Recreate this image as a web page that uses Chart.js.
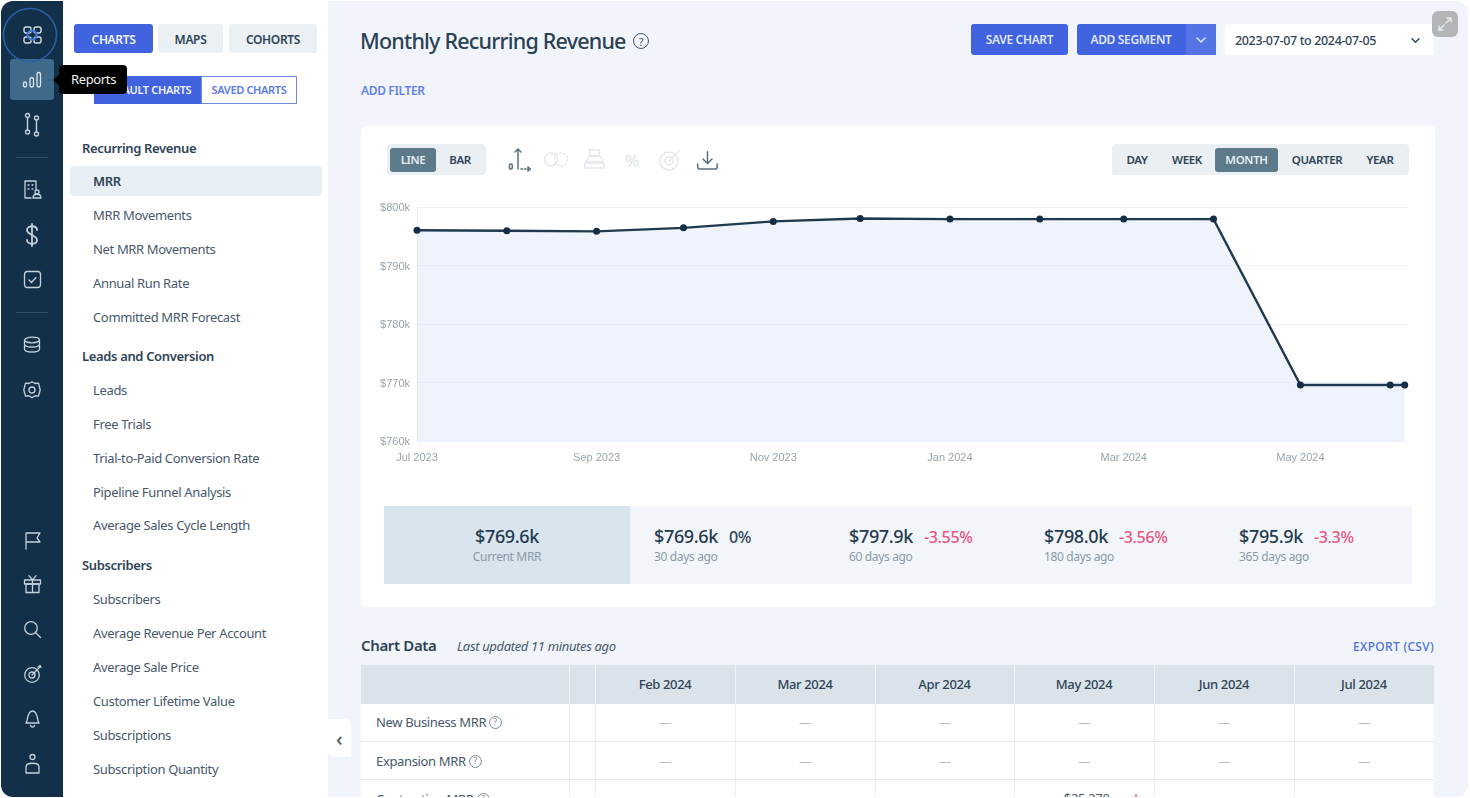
<!DOCTYPE html>
<html>
<head>
<meta charset="utf-8">
<title>Monthly Recurring Revenue</title>
<script src="https://cdn.jsdelivr.net/npm/chart.js@4"></script>
<style>
html,body{margin:0;padding:0;width:1470px;height:798px;overflow:hidden;background:#fff;}
body{font-family:"Noto Sans",sans-serif;color:#48586a;}
#app{position:absolute;left:1px;top:1px;width:1467px;height:796px;background:#f1f5fb;border-radius:12px;overflow:hidden;}
#stage{position:absolute;left:-1px;top:-1px;width:1470px;height:798px;}
.box{position:absolute;}
.t{position:absolute;white-space:nowrap;transform:translateY(-50%);letter-spacing:-.35px;}
.c{transform:translate(-50%,-50%);}
.r{transform:translate(-100%,-50%);}
svg{position:absolute;overflow:visible;fill:none;}
#chartWrap{position:absolute;left:370px;top:190px;width:1060px;height:285px;}
</style>
</head>
<body>
<div id="app"><div id="stage">
<div id="chartWrap"><canvas id="mrrChart" width="1060" height="285"></canvas></div>
</div></div>
<script>
// chart data
const pointDates = ['2023-07-01','2023-08-01','2023-09-01','2023-10-01','2023-11-01','2023-12-01','2024-01-01','2024-02-01','2024-03-01','2024-04-01','2024-05-01','2024-06-01','2024-06-06'];
const mrrValues = [796100,796000,795900,796500,797600,798100,798000,798000,798000,798000,769600,769600,769600];
const xTickDates = ['2023-07-01','2023-09-01','2023-11-01','2024-01-01','2024-03-01','2024-05-01'];
const xTickLabels = ['Jul 2023','Sep 2023','Nov 2023','Jan 2024','Mar 2024','May 2024'];
const yTickLabels = ['$760k','$770k','$780k','$790k','$800k'];

// page text
const menuItems = [[148,'Recurring Revenue',1],[181,'MRR',2],[215,'MRR Movements'],[249,'Net MRR Movements'],[283,'Annual Run Rate'],[317,'Committed MRR Forecast'],
  [356,'Leads and Conversion',1],[390,'Leads'],[424,'Free Trials'],[458,'Trial-to-Paid Conversion Rate'],[492,'Pipeline Funnel Analysis'],[525,'Average Sales Cycle Length'],
  [565,'Subscribers',1],[599,'Subscribers'],[633,'Average Revenue Per Account'],[667,'Average Sale Price'],[701,'Customer Lifetime Value'],[735,'Subscriptions'],[769,'Subscription Quantity']];
const statValues = ['$769.6k','$797.9k','$798.0k','$795.9k'];
const statChanges = ['0%','-3.55%','-3.56%','-3.3%'];
const statPeriods = ['30 days ago','60 days ago','180 days ago','365 days ago'];
const tableMonths = ['Feb 2024','Mar 2024','Apr 2024','May 2024','Jun 2024','Jul 2024'];
const tableRows = ['New Business MRR','Expansion MRR','Contraction MRR'];

const stage = document.getElementById('stage');
const BLUE = '#4163e0', SLATE = '#5d7a8a', DARK = '#2f4356';

function box(x,y,w,h,bg,radius,extra){
  const d = document.createElement('div');
  d.className = 'box';
  d.style.cssText = `left:${x}px;top:${y}px;width:${w}px;height:${h}px;background:${bg};border-radius:${radius||0}px;${extra||''}`;
  stage.appendChild(d);
  return d;
}
function text(x,y,str,size,color,weight,align,extra){
  const d = document.createElement('div');
  d.className = 't' + (align ? ' '+align : '');
  d.textContent = str;
  d.style.cssText = `left:${x}px;top:${y}px;font-size:${size}px;color:${color};font-weight:${weight||400};${extra||''}`;
  stage.appendChild(d);
  return d;
}
function icon(x,y,w,h,color,sw,inner){
  const s = document.createElementNS('http://www.w3.org/2000/svg','svg');
  s.setAttribute('width',w); s.setAttribute('height',h);
  s.setAttribute('viewBox',`0 0 ${w} ${h}`);
  s.style.left = x+'px'; s.style.top = y+'px';
  s.setAttribute('stroke',color); s.setAttribute('stroke-width',sw);
  s.setAttribute('stroke-linecap','round'); s.setAttribute('stroke-linejoin','round');
  s.innerHTML = inner;
  stage.appendChild(s);
}
function help(cx,cy,r,color){
  icon(cx-r,cy-r,r*2,r*2,color,1,`<circle cx="${r}" cy="${r}" r="${r-.5}"/>`);
  text(cx,cy,'?',r*1.35,color,400,'c');
}

// sidebars and panels
box(0,0,63,798,'#12304a');
box(63,0,265,798,'#ffffff');
box(328,719,23,38,'#ffffff','0 6');
text(339,738,'‹',20,'#48586a',500,'c');
box(10,59,44,41,'#3f6a89',3);
box(16,157,32,1,'#2f4d66');
box(16,312,32,1,'#2f4d66');

const ic = '#c6d1d9';
icon(3,8,54,54,'#2a5fa8',1.6,'<circle cx="27" cy="27" r="26.5"/>');
icon(24,27,16,16,'#d5dee5',1.4,'<rect x="0" y="0" width="7" height="6" rx="2"/><rect x="10" y="0" width="7" height="6" rx="2"/><rect x="0" y="10" width="7" height="6" rx="2"/><rect x="10" y="10" width="7" height="6" rx="2"/>');
icon(27,30,10,10,'#3f78d8',2.2,'<circle cx="5" cy="5" r="4.5"/>');
icon(23,72,19,16,'#dde5ea',1.3,'<rect x="0.5" y="10" width="3" height="5" rx="1.5"/><rect x="7" y="5.5" width="3.5" height="9.5" rx="1.7"/><rect x="14" y="0.5" width="3.5" height="14.5" rx="1.7"/>');
icon(25,113,16,24,ic,1.4,'<circle cx="2.5" cy="2.5" r="2"/><path d="M2.5 4.5V17"/><circle cx="2.5" cy="19" r="2"/><circle cx="11.5" cy="5" r="2"/><path d="M11.5 7V19"/><circle cx="11.5" cy="21" r="2"/>');
icon(24,180,19,19,ic,1.3,'<path d="M7 18H1V1H12V9"/><path d="M4 5h1M8 5h1M4 9h1M8 9h1"/><circle cx="13" cy="12" r="2"/><path d="M9 18c0-5 8-5 8 0z"/>');
icon(25,223,14,24,ic,1.8,'<path d="M12 7C12 2 2 2 2 7c0 5 10 5 10 10 0 5-10 5-10 0"/><path d="M7 1V23"/>');
icon(24,271,17,17,ic,1.3,'<rect x="0.5" y="0.5" width="16" height="16" rx="3"/><path d="M5 9l2.5 2.5L12 6.5"/>');
icon(24,337,16,15,ic,1.3,'<ellipse cx="8" cy="3" rx="7.5" ry="2.8"/><path d="M.5 3v4c0 4 15 4 15 0V3M.5 8v4c0 4 15 4 15 0V8"/>');
icon(23,381,18,18,ic,1.3,'<path d="M9 0.7l3 1.8 3.5-.3 1.7 6.8-1.7 6-3.5-.2-3 2-3-2-3.5.2L.8 9 2.5 2.2l3.5.3z"/><circle cx="9" cy="9" r="3"/>');
icon(25,532,16,17,ic,1.3,'<path d="M1 17V1H15L12 6l3 4H1"/>');
icon(24,575,17,18,ic,1.3,'<rect x="0.5" y="5" width="16" height="4"/><rect x="2" y="9" width="13" height="8.5"/><path d="M8.5 5V17.5M8.5 5L5 .7M8.5 5L12 .7"/>');
icon(24,621,17,17,ic,1.3,'<circle cx="7" cy="7" r="6.3"/><path d="M11.5 11.5L16.5 16.5"/>');
icon(24,665,18,18,ic,1.3,'<circle cx="8" cy="10" r="7.3"/><circle cx="8" cy="10" r="3"/><path d="M8 10L16 2"/><path d="M14 2l2-1.5 1 2"/>');
icon(25,710,15,18,ic,1.3,'<path d="M1 13C3 11 2 1 7.5 1S12 11 14 13z"/><path d="M5.5 15.5c.5 2 3.5 2 4 0"/>');
icon(25,754,15,20,ic,1.3,'<circle cx="7.5" cy="3" r="2.5"/><path d="M1 19V13C1 8 14 8 14 13V19z"/>');

// left panel buttons
box(74,24,79,29,BLUE,3); text(113.5,38.5,'CHARTS',12,'#f1f4fd',600,'c');
box(158,24,65,29,'#eaf0f4',3); text(190.5,38.5,'MAPS',12,DARK,600,'c');
box(229,24,88,29,'#eaf0f4',3); text(273,38.5,'COHORTS',12,DARK,600,'c');
box(94,76,107,28,BLUE,'4 0 0 4');
box(201,76,96,28,'#fff','0 4 4 0','box-sizing:border-box;border:1px solid #6f8ae6;');
text(147.5,89,'DEFAULT CHARTS',11,'#eef2fd',600,'c');
text(249,89,'SAVED CHARTS',11,'#5c7ae2',600,'c');
box(59,65,68,29,'#000',4);
icon(53,74,7,12,'#000',0,'<path d="M6.5 0V12L0 6z" fill="#000"/>');
text(93.5,79,'Reports',13,'#f2f2f2',400,'c');
box(70,166,252,30,'#e8eff4',4);
menuItems.forEach(m => {
  if (m[2] === 1) text(82,m[0],m[1],13,DARK,600);
  else if (m[2] === 2) text(93,m[0],m[1],13,DARK,600);
  else text(93,m[0],m[1],13,'#48586a',400);
});

// title row
text(360,39.5,'Monthly Recurring Revenue',21.5,'#2a4054',500,'', 'letter-spacing:-.8px;');
help(641,41,8,'#48586a');
text(361,90,'ADD FILTER',12,'#6482e4',600);
box(971,24,97,31,BLUE,3); text(1019.5,39,'SAVE CHART',12,'#dfe6fa',600,'c');
box(1077,24,139,31,BLUE,3); box(1186,24,30,31,'#5474e6','0 3 3 0');
text(1131,39,'ADD SEGMENT',12,'#dfe6fa',600,'c');
icon(1196,37,10,6,'#dfe6fa',1.5,'<path d="M1 1l4 4 4-4"/>');
box(1225,24,209,31,'#fff',4);
text(1235,39.5,'2023-07-07 to 2024-07-05',12.5,DARK,500);
icon(1411,38,9,5,DARK,1.4,'<path d="M1 .7l3.5 3.5L8 .7"/>');
box(1432,11,26,26,'#b2b6b8',6);
icon(1438,17,14,14,'#e8eaeb',1.4,'<path d="M8 6l5-5M9 1h4v4M6 8l-5 5M5 13H1V9"/>');

// chart card and controls, the canvas sits on top of this
const card = box(361,126,1074,481,'#fff',5);
stage.insertBefore(card, document.getElementById('chartWrap'));
box(387,144,99,31,'#e9eff3',4);
box(390,148,46,23.5,SLATE,3);
text(413,159,'LINE',11.5,'#e7edf0',600,'c');
text(460,159,'BAR',11.5,DARK,600,'c');
icon(509,148,22,23,'#5a6f7e',1.5,'<path d="M9 21V1M6 4l3-3 3 3"/><path d="M12 21h5" stroke-dasharray="1.5 2"/><path d="M19 19l2.5 2-2.5 2z"/><rect x="0.5" y="16" width="2.8" height="5" rx="1.2"/>');
icon(544,152,25,15,'#e3e8ec',1.4,'<circle cx="7" cy="7.5" r="6.5"/><circle cx="17" cy="7.5" r="6.5" stroke-dasharray="2 2"/>');
icon(584,149,21,20,'#e3e8ec',1.4,'<rect x="6" y=".7" width="9" height="6"/><path d="M5 7h11l3 6H2z"/><rect x=".7" y="14" width="19.5" height="5" rx="1"/>');
text(632,160,'%',17,'#dfe5e9',500,'c');
icon(659,149,23,22,'#e3e8ec',1.5,'<circle cx="10" cy="12" r="9"/><circle cx="10" cy="12" r="4"/><path d="M10 12L20 2"/>');
icon(697,151,21,19,'#5a6f7e',1.5,'<path d="M10.5 0.7V12M6 8l4.5 4.5L15 8M.7 13v3c0 1.5 1 2 2 2h15.5c1 0 2-.5 2-2v-3"/>');
box(1112,144,297,31,'#e9eff3',4);
box(1215,148,63,23.5,SLATE,3);
text(1137,159,'DAY',11.5,DARK,600,'c');
text(1187,159,'WEEK',11.5,DARK,600,'c');
text(1246.5,159,'MONTH',11.5,'#e7edf0',600,'c');
text(1317,159,'QUARTER',11.5,DARK,600,'c');
text(1380,159,'YEAR',11.5,DARK,600,'c');

// stats strip
box(384,506,1028,78,'#f2f6fb');
box(384,506,246,78,'#d8e4ee');
text(507,536,'$769.6k',18,'#243a4d',500,'c');
text(507,556,'Current MRR',12,'#8a99a6',400,'c');
[654,849,1044,1239].forEach((x,i) => {
  text(x,536,statValues[i],18,'#243a4d',500);
  text(x+75,537,statChanges[i],16,i === 0 ? '#2f4356' : '#e8577f',500);
  text(x,556,statPeriods[i],12,'#8a99a6',400);
});

// data table
text(361,645,'Chart Data',15,DARK,600);
text(457,646,'Last updated 11 minutes ago',13,'#48586a',400,'','font-style:italic;');
text(1434,646,'EXPORT (CSV)',12,'#4f70dc',500,'r','letter-spacing:.3px;');
box(361,665,1073,133,'#fff');
box(361,665,1073,39,'#d9e3e9');
const colEdges = [569,595,735,875,1014,1154,1294];
colEdges.forEach((x,i) => {
  box(x,665,1,39,'#eef3f6');
  box(x,704,1,94,'#e9eef2');
});
tableMonths.forEach((m,i) => {
  text((colEdges[i+1]+(colEdges[i+2]||1434))/2,684,m,13,DARK,500,'c');
});
[741,779].forEach(y => box(361,y,1073,1,'#e4e9ed'));
const rowY = [722,761,799];
tableRows.forEach((r,i) => {
  const label = text(376,rowY[i],r,13,'#48586a',400);
  help(376+label.offsetWidth+9,rowY[i],6.5,'#7a8894');
  if (i < 2) tableMonths.forEach((m,j) => {
    text((colEdges[j+1]+(colEdges[j+2]||1434))/2,rowY[i],'—',12,'#b4bec6',400,'c');
  });
});
text(1060,798,'-$25,370',13,'#48586a',400);
text(1136,797,'^',11,'#e8577f',500,'c');

// line chart, x is days counted from the first date
const dayOf = d => (Date.parse(d) - Date.parse(pointDates[0])) / 86400000;

new Chart(document.getElementById('mrrChart'), {
  type: 'line',
  data: {
    datasets: [{
      data: pointDates.map((d,i) => ({x: dayOf(d), y: mrrValues[i]})),
      borderColor: '#1f3a4f',
      borderWidth: 2.4,
      pointRadius: 3.5,
      pointBackgroundColor: '#142f45',
      pointBorderWidth: 0,
      tension: 0,
      fill: 'start',
      backgroundColor: 'rgba(222,232,250,.5)',
      clip: false
    }]
  },
  options: {
    responsive: false,
    animation: false,
    layout: {padding: {top: 17.4, right: 22.4}},
    plugins: {legend: {display: false}, tooltip: {enabled: false}},
    scales: {
      x: {
        type: 'linear',
        min: 0,
        max: dayOf('2024-06-07'),
        afterBuildTicks: axis => { axis.ticks = xTickDates.map(d => ({value: dayOf(d)})); },
        afterFit: axis => { axis.height = 34; },
        grid: {display: false},
        border: {display: false},
        ticks: {
          autoSkip: false,
          maxRotation: 0,
          padding: 2,
          color: '#98a4ac',
          font: {family: '"Liberation Sans"', size: 11},
          callback: (v,i) => xTickLabels[i]
        }
      },
      y: {
        min: 760000,
        max: 800000,
        afterFit: axis => { axis.width = 47; },
        grid: {color: '#eef1f5', drawTicks: false},
        border: {color: '#eef1f5'},
        ticks: {
          stepSize: 10000,
          padding: 7,
          labelOffset: 1,
          color: '#98a4ac',
          font: {family: '"Liberation Sans"', size: 11},
          callback: (v,i) => yTickLabels[i]
        }
      }
    }
  }
});
</script>
</body>
</html>
